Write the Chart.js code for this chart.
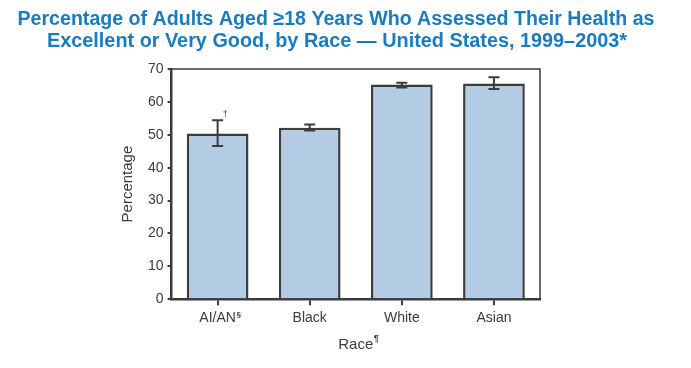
<!DOCTYPE html>
<html>
<head>
<meta charset="utf-8">
<script src="https://cdn.jsdelivr.net/npm/chart.js@4"></script>
<style>
  html, body { margin: 0; padding: 0; background: #fff; }
  #wrap { width: 691px; height: 368px; }
</style>
</head>
<body>
<div id="wrap"><canvas id="chart" width="691" height="368"></canvas></div>
<script>
const titleLines = ['Percentage of Adults Aged ≥18 Years Who Assessed Their Health as',
                    'Excellent or Very Good, by Race — United States, 1999–2003*'];
const races = ['AI/AN', 'Black', 'White', 'Asian'];
const raceNotes = ['§', '', '', ''];
const percentages = [50.4, 52.1, 65.3, 65.6];
const ciLower = [46.6, 51.3, 64.4, 63.9];
const ciUpper = [54.4, 53.1, 65.8, 67.5];
const barNotes = ['†', '', '', ''];

const ink = '#3d3b3c';
const font = 'Arial, "Liberation Sans", sans-serif';

// title, error bars, frame and footnote marks
const extras = {
    id: 'extras',
    afterDatasetsDraw(chart) {
        const ctx = chart.ctx;
        const x = chart.scales.x;
        const y = chart.scales.y;
        const area = chart.chartArea;

        ctx.save();
        ctx.fillStyle = '#1a7bbd';
        ctx.font = 'bold 20px ' + font;
        ctx.textAlign = 'center';
        ctx.textBaseline = 'alphabetic';
        ctx.fillText(titleLines[0], 336, 25, 637);
        ctx.fillText(titleLines[1], 337, 46.5, 580);

        ctx.strokeStyle = ink;
        ctx.lineWidth = 1.5;
        ctx.beginPath();
        ctx.moveTo(area.left, area.top);
        ctx.lineTo(area.right, area.top);
        ctx.lineTo(area.right, area.bottom);
        ctx.stroke();

        ctx.lineWidth = 2;
        percentages.forEach((v, i) => {
            const cx = x.getPixelForValue(i);
            const top = y.getPixelForValue(ciUpper[i]);
            const bot = y.getPixelForValue(ciLower[i]);
            ctx.beginPath();
            ctx.moveTo(cx, top);
            ctx.lineTo(cx, bot);
            ctx.moveTo(cx - 5.5, top);
            ctx.lineTo(cx + 5.5, top);
            ctx.moveTo(cx - 5.5, bot);
            ctx.lineTo(cx + 5.5, bot);
            ctx.stroke();
            if (barNotes[i]) {
                ctx.fillStyle = ink;
                ctx.font = '9px ' + font;
                ctx.textAlign = 'left';
                ctx.textBaseline = 'bottom';
                ctx.fillText(barNotes[i], cx + 5, top - 1);
            }
        });

        // superscripts on tick labels and axis title
        ctx.fillStyle = ink;
        ctx.textBaseline = 'alphabetic';
        ctx.textAlign = 'left';
        races.forEach((r, i) => {
            if (!raceNotes[i]) return;
            ctx.font = '14px ' + font;
            const w = ctx.measureText(r).width;
            const cx = x.getPixelForValue(i);
            ctx.font = 'bold 8px ' + font;
            ctx.fillText(raceNotes[i], cx + w / 2 + 0.5, area.bottom + 18);
        });
        ctx.font = '15px ' + font;
        const tw = ctx.measureText('Race').width;
        ctx.font = 'bold 9px ' + font;
        ctx.fillText('¶', (area.left + area.right) / 2 + tw / 2 + 0.5, area.bottom + 42);
        ctx.restore();
    }
};

new Chart(document.getElementById('chart'), {
    type: 'bar',
    data: {
        labels: races,
        datasets: [{
            data: percentages,
            backgroundColor: '#b3cce4',
            borderColor: ink,
            borderWidth: 2.5,
            categoryPercentage: 1,
            barPercentage: 0.67
        }]
    },
    options: {
        responsive: false,
        animation: false,
        layout: { padding: { left: 114.5, right: 151, top: 69, bottom: 10 } },
        plugins: {
            legend: { display: false },
            tooltip: { enabled: false },
            title: { display: false }
        },
        scales: {
            x: {
                grid: { display: true, drawOnChartArea: false, offset: false, tickLength: 6, color: ink, lineWidth: 2 },
                border: { color: ink, width: 2.5 },
                ticks: { color: ink, font: { family: font, size: 14 }, padding: 5 },
                title: { display: true, text: 'Race', color: ink, font: { family: font, size: 15 }, padding: { top: 4, bottom: 4 } }
            },
            y: {
                min: 0,
                max: 70,
                grid: { display: true, drawOnChartArea: false, tickLength: 4, color: ink, lineWidth: 2 },
                border: { color: ink, width: 2.5 },
                ticks: { stepSize: 10, color: ink, font: { family: font, size: 14 }, padding: 4 },
                title: { display: true, text: 'Percentage', color: ink, font: { family: font, size: 15 }, padding: { top: 4, bottom: 7.5 } }
            }
        }
    },
    plugins: [extras]
});
</script>
</body>
</html>
